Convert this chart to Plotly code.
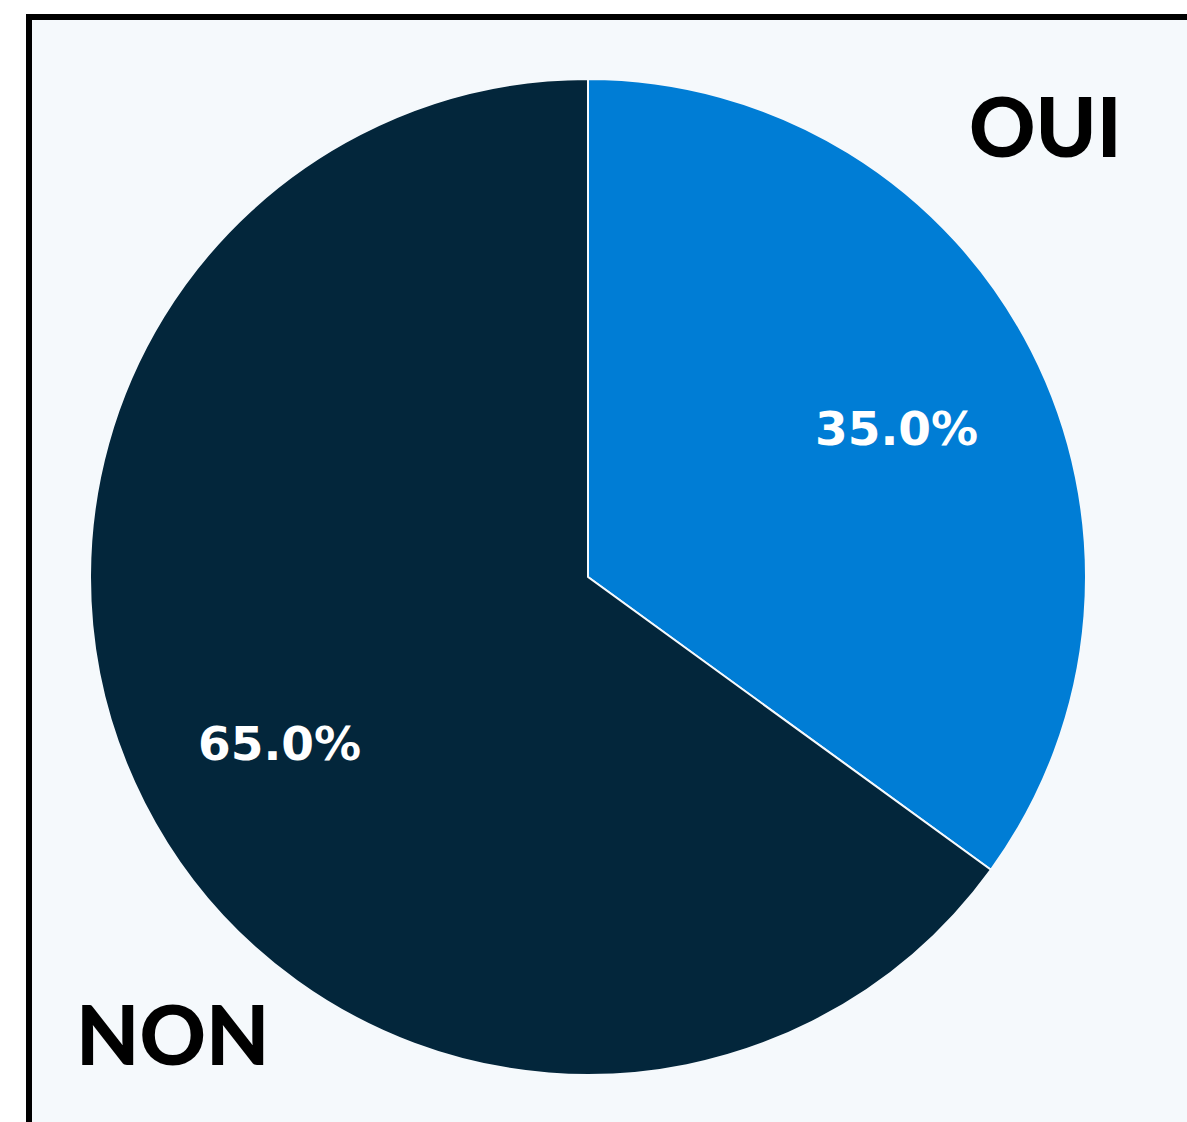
import math
import plotly.graph_objects as go

labels = ["OUI", "NON"]
values = [35, 65]
colors = ["#007dd5", "#03263b"]

W, H = 1187, 1122
cx, cy, r = 588, 577, 498


def px(x):
    return x / W


def py(y):
    return (H - y) / H


fig = go.Figure(go.Pie(
    labels=labels,
    values=values,
    sort=False,
    direction="clockwise",
    rotation=0,
    marker=dict(colors=colors, line=dict(color="#f5f9fc", width=2)),
    textinfo="none",
    showlegend=False,
    hoverinfo="label+percent",
    domain=dict(x=[px(cx - r), px(cx + r)], y=[py(cy + r), py(cy - r)]),
))

# pourcentages placés à ~0.7 du rayon, au milieu de chaque part
total = sum(values)
cum = 0
for v in values:
    mid = (cum + v / 2) / total * 2 * math.pi
    cum += v
    tx = cx + 0.695 * r * math.sin(mid)
    ty = cy - 0.695 * r * math.cos(mid) + 9
    fig.add_annotation(text=f"{v / total:.1%}", x=px(tx), y=py(ty), xref="paper", yref="paper",
                       showarrow=False, xanchor="center", yanchor="middle",
                       font=dict(family="DejaVu Sans", size=47, color="white", weight="bold"))

# cadre : fond clair + bordure noire haut/gauche
fig.add_shape(type="rect", xref="paper", yref="paper", x0=px(29), x1=1.0, y0=0, y1=py(17),
              fillcolor="#f5f9fc", line=dict(width=0), layer="below")
fig.add_shape(type="line", xref="paper", yref="paper", x0=px(26), x1=1.0, y0=py(17), y1=py(17),
              line=dict(color="black", width=6))
fig.add_shape(type="line", xref="paper", yref="paper", x0=px(29), x1=px(29), y0=0, y1=py(14),
              line=dict(color="black", width=6))

for txt, x, y in [("OUI", 1045, 125), ("NON", 172, 1033)]:
    fig.add_annotation(text=txt, x=px(x), y=py(y), xref="paper", yref="paper",
                       showarrow=False, xanchor="center", yanchor="middle",
                       font=dict(family="Lato", size=82, color="black", weight=900))

fig.update_layout(width=W, height=H, margin=dict(l=0, r=0, t=0, b=0),
                  paper_bgcolor="white", plot_bgcolor="white")

fig.write_html("out.html", config={"displayModeBar": False},
               post_script="document.body.style.margin='0';")
